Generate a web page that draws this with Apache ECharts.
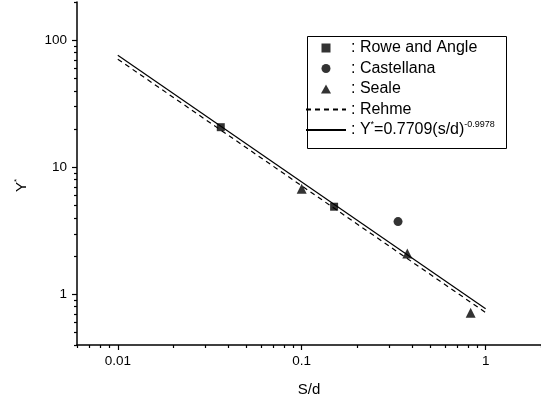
<!DOCTYPE html>
<html>
<head>
<meta charset="utf-8">
<script src="https://cdn.jsdelivr.net/npm/echarts@6/dist/echarts.min.js"></script>
<style>html,body{margin:0;padding:0;background:#fff}#c{width:541px;height:403px}</style>
</head>
<body>
<div id="c"></div>
<script>
// ---- data ----
var roweAngle = [[0.0363, 20.7], [0.150, 4.90]];
var castellana = [[0.334, 3.74]];
var seale = [[0.100, 6.78], [0.375, 2.10], [0.829, 0.718]];
var rehme = [[0.01, 71.0], [1, 0.72]];
var fitLine = [[0.01, 76.3], [1, 0.7709]];
var xMajorTicks = [0.01, 0.1, 1];
var yMajorTicks = [1, 10, 100];
var seriesNames = ['Rowe and Angle', 'Castellana', 'Seale', 'Rehme', 'fit'];

function minorTicks(lo, hi) {
  var out = [];
  for (var e = -3; e <= 3; e++) {
    for (var m = 2; m <= 9; m++) {
      var v = parseFloat((m * Math.pow(10, e)).toPrecision(6));
      if (v >= lo - 1e-12 && v <= hi + 1e-12) out.push(v);
    }
  }
  return out;
}
var xMin = 0.006, xMax = 2, yMin = 0.4, yMax = 200;
var FONT = "'Liberation Sans', Arial, sans-serif";

function fmt(v) { return String(parseFloat(v.toPrecision(6))); }

function logAxis(min, max, major, isMinor, extra) {
  var a = {
    type: 'log', logBase: 10, min: min, max: max,
    splitLine: { show: false }, minorTick: { show: false },
    axisLine: { show: !isMinor, onZero: false, lineStyle: { color: '#000', width: 1.5 } },
    axisTick: { show: true, inside: false, length: isMinor ? 3 : 5,
      customValues: isMinor ? minorTicks(min, max) : major,
      lineStyle: { color: '#000', width: 1.2 } },
    axisLabel: { show: !isMinor, customValues: major, color: '#000', fontSize: 13.5, fontFamily: FONT, formatter: fmt }
  };
  for (var k in extra) a[k] = extra[k];
  return a;
}

var chart = echarts.init(document.getElementById('c'), null, { renderer: 'canvas' });
chart.setOption({
  animation: false,
  backgroundColor: '#fff',
  grid: { left: 77, right: 0, top: 2, bottom: 58, containLabel: false, outerBoundsMode: 'none' },
  xAxis: [
    logAxis(xMin, xMax, xMajorTicks, false, {
      name: 'S/d', nameLocation: 'middle', nameGap: 37,
      nameTextStyle: { color: '#000', fontSize: 15, fontFamily: FONT },
      axisLabel: { show: true, customValues: xMajorTicks, color: '#000', fontSize: 13.5, fontFamily: FONT, margin: 9, formatter: fmt }
    }),
    logAxis(xMin, xMax, xMajorTicks, true, { position: 'bottom' })
  ],
  yAxis: [
    logAxis(yMin, yMax, yMajorTicks, false, {
      name: '{a|Y}{s|*}', nameLocation: 'middle', nameGap: 46, nameRotate: 90,
      nameTextStyle: { color: '#000', fontFamily: FONT, padding: [0, 24, 0, 0],
        rich: { a: { fontSize: 15, fontFamily: FONT, color: '#000', lineHeight: 18 },
                s: { fontSize: 8, fontFamily: FONT, color: '#000', verticalAlign: 'top' } } },
      axisLabel: { show: true, customValues: yMajorTicks, color: '#000', fontSize: 13.5, fontFamily: FONT, margin: 10, formatter: fmt }
    }),
    logAxis(yMin, yMax, yMajorTicks, true, { position: 'left' })
  ],
  legend: {
    orient: 'vertical', left: 305, top: 38, padding: 0, itemGap: 0.5,
    itemWidth: 40, itemHeight: 9, selectedMode: false,
    data: [
      { name: seriesNames[0], icon: 'path://M0,0L1,0L1,1L0,1Z' },
      { name: seriesNames[1], icon: 'path://M1,0.5A0.5,0.5,0,1,1,0,0.5A0.5,0.5,0,1,1,1,0.5Z' },
      { name: seriesNames[2], icon: 'path://M0.5,0L1,0.9L0,0.9Z' },
      { name: seriesNames[3], itemStyle: { opacity: 0 } },
      { name: seriesNames[4], itemStyle: { opacity: 0 } }
    ],
    formatter: function (n) {
      if (n === 'fit') return '{t|: Y}{s|*}{t|=0.7709(s/d)}{s|-0.9978}';
      return '{t|: ' + n + '}';
    },
    textStyle: { color: '#000', fontFamily: FONT, fontSize: 16, lineHeight: 20,
      rich: { t: { fontSize: 16, fontFamily: FONT, color: '#000', lineHeight: 20 },
              s: { fontSize: 9, fontFamily: FONT, color: '#000', lineHeight: 12, verticalAlign: 'top' } } }
  },
  graphic: [{ type: 'rect', left: 305, top: 34, shape: { width: 199, height: 112 },
    style: { fill: 'none', stroke: '#000', lineWidth: 1 }, z: 100 }],
  series: [
    { name: seriesNames[0], type: 'scatter', data: roweAngle, symbol: 'rect', symbolSize: 8,
      itemStyle: { color: '#000' }, z: 5 },
    { name: seriesNames[1], type: 'scatter', data: castellana, symbol: 'circle', symbolSize: 9,
      itemStyle: { color: '#000' }, z: 5 },
    { name: seriesNames[2], type: 'scatter', data: seale, symbol: 'triangle', symbolSize: 10,
      itemStyle: { color: '#000' }, z: 5 },
    { name: seriesNames[3], type: 'line', data: rehme, showSymbol: false, symbol: 'none',
      lineStyle: { color: '#000', width: 1.2, type: [5, 4] }, itemStyle: { color: '#000' } },
    { name: seriesNames[4], type: 'line', data: fitLine, showSymbol: false, symbol: 'none',
      lineStyle: { color: '#000', width: 1.2, type: 'solid' }, itemStyle: { color: '#000' } }
  ]
});
</script>
</body>
</html>
